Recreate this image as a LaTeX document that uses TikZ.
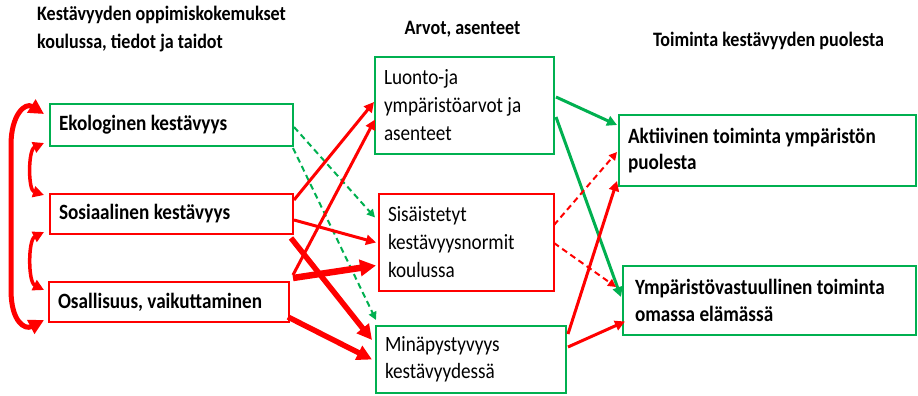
\documentclass[tikz,border=0pt]{standalone}
\usepackage{fontspec}
\setmainfont{Carlito}[FakeStretch=0.88]
\usetikzlibrary{arrows.meta,calc}
\definecolor{ogreen}{RGB}{0,176,80}
\definecolor{ored}{RGB}{255,0,0}
\begin{document}
\begin{tikzpicture}[x=1pt,y=-1pt,
  box/.style={draw, line width=2pt, fill=white, inner xsep=9pt, inner ysep=0pt, align=flush left,
    font=\fontsize{21.8}{28}\selectfont},
  boldbox/.style={box, font=\fontsize{21.8}{26.5}\selectfont\bfseries},
  gcol/.style={draw=ogreen},
  rcol/.style={draw=ored},
  head/.style={align=left, inner sep=0pt, font=\fontsize{20.5}{28}\selectfont\bfseries},
  ra/.style={draw=ored, line width=3pt, -{Triangle[length=10pt,width=10pt]}},
  rthick/.style={draw=ored, line width=5.5pt, -{Triangle[length=15pt,width=15pt]}},
  rthicker/.style={draw=ored, line width=6.5pt, -{Triangle[length=16pt,width=16pt]}},
  ga/.style={draw=ogreen, line width=3pt, -{Triangle[length=10pt,width=10pt]}},
  gdash/.style={draw=ogreen, line width=2pt, dash pattern=on 6pt off 4pt, -{Triangle[length=8pt,width=8pt]}},
  rdash/.style={draw=ored, line width=2pt, dash pattern=on 6pt off 4pt, -{Triangle[length=8pt,width=8pt]}},
  bigbr/.style={draw=ored, line width=5pt, {Triangle[length=15pt,width=15pt]}-{Triangle[length=15pt,width=15pt]}},
  smallbr/.style={draw=ored, line width=3.5pt, {Triangle[length=11pt,width=11pt]}-{Triangle[length=11pt,width=11pt]}}
]
\useasboundingbox (0,0) rectangle (918,396);

% headings
\node[head, anchor=west] (h1) at (37,29) {Kestävyyden oppimiskokemukset\\koulussa, tiedot ja taidot};
\node[head] (h2) at (462.5,29) {Arvot, asenteet};
\node[head] (h3) at (768.5,41) {Toiminta kestävyyden puolesta};

% left boxes
\node[boldbox, gcol, text width=225pt, minimum height=42pt] (eko) at (171.5,125) {Ekologinen kestävyys};
\node[boldbox, rcol, text width=225pt, minimum height=40pt] (sos) at (171.5,214) {Sosiaalinen kestävyys};
\node[boldbox, rcol, text width=222pt, minimum height=40pt] (osa) at (169,302) {Osallisuus, vaikuttaminen};

% middle boxes
\node[box, gcol, text width=161pt, minimum height=97pt] (lu) at (464.5,105.5) {Luonto-ja\\ympäristöarvot ja\\asenteet};
\node[box, rcol, text width=157pt, minimum height=97pt] (si) at (466.5,242.5) {Sisäistetyt\\kestävyysnormit\\koulussa};
\node[box, gcol, text width=172pt, minimum height=67pt, font=\fontsize{21.8}{27}\selectfont] (mi) at (471,359.5) {Minäpystyvyys\\kestävyydessä};

% right boxes
\node[boldbox, gcol, text width=279pt, minimum height=71pt] (ak) at (767.5,150.5) {Aktiivinen toiminta ympäristön\\puolesta};
\node[boldbox, gcol, inner xsep=12pt, text width=269pt, minimum height=69pt] (ym) at (769.5,300.5) {Ympäristövastuullinen toiminta\\omassa elämässä};

% left brackets
\draw[bigbr] ($(eko.west)+(-5,-11)$) .. controls (25,102) and (11,115) .. (11,145)
  -- (11,290) .. controls (11,322) and (25,330) .. ($(osa.west)+(-4,18)$);
\draw[smallbr] ($(eko.west)+(-5,18)$) .. controls (28,150) and (28,190) .. ($(sos.west)+(-5,-19)$);
\draw[smallbr] ($(sos.west)+(-5,18)$) .. controls (28,240) and (28,282) .. ($(osa.west)+(-4,-12)$);

% left to middle
\draw[gdash] ($(eko.east)+(0,2)$) -- ($(si.west)+(-3,-25)$);
\draw[gdash] ($(eko.south east)+(-1,1)$) -- ($(mi.north west)+(1,-5)$);
\draw[ra] ($(sos.east)+(0,-14)$) -- ($(lu.west)+(0,-3.5)$);
\draw[ra] ($(sos.east)+(0,6)$) -- ($(si.west)+(-2,0)$);
\draw[rthick] ($(sos.south east)+(-3,3)$) -- ($(mi.west)+(-3,-19.5)$);
\draw[ra] ($(osa.north east)+(3,-6)$) -- ($(lu.west)+(1,14)$);
\draw[rthicker] ($(osa.north east)+(3,-3)$) -- ($(si.west)+(-2,23)$);
\draw[rthick] ($(osa.south east)+(-2,-6)$) -- ($(mi.west)+(-3,0)$);

% middle to right
\draw[ga] ($(lu.east)+(1,-8.5)$) -- ($(ak.west)+(-1,-25.5)$);
\draw[ga] ($(lu.east)+(1,11.5)$) -- ($(ym.west)+(-1,-3.5)$);
\draw[rdash] ($(si.east)+(-1,-17.5)$) -- ($(ak.west)+(-1,1.5)$);
\draw[rdash] ($(si.east)+(-1,0.5)$) -- ($(ym.west)+(-6,-13.5)$);
\draw[ra] ($(mi.north east)+(1,9)$) -- ($(ak.south west)+(-1,-6)$);
\draw[ra] ($(mi.east)+(1,-12.5)$) -- ($(ym.west)+(3,21)$);
\end{tikzpicture}
\end{document}
